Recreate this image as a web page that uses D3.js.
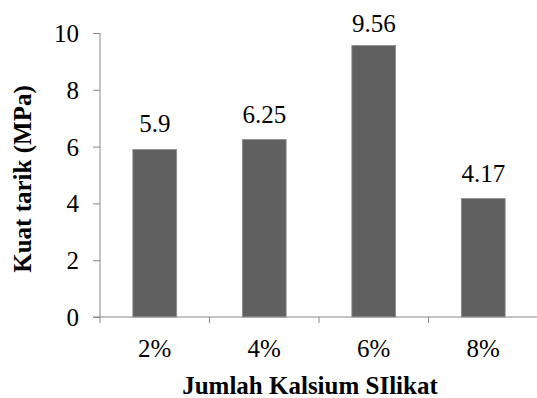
<!DOCTYPE html>
<html>
<head>
<meta charset="utf-8">
<script src="https://cdn.jsdelivr.net/npm/d3@7"></script>
<style>
  html, body { margin: 0; padding: 0; background: #fff; }
  svg text { font-family: "Liberation Serif", "Times New Roman", serif; fill: #000; }
</style>
</head>
<body>
<svg id="chart" width="537" height="398"></svg>
<script>
// Tensile strength by calcium silicate content
const categories = ["2%", "4%", "6%", "8%"];
const values = [5.9, 6.25, 9.56, 4.17];
const yTicks = [0, 2, 4, 6, 8, 10];
const xTitle = "Jumlah Kalsium SIlikat";
const yTitle = "Kuat tarik (MPa)";

const svg = d3.select("#chart");
const axisColor = "#898989";
const serif = "Liberation Serif, Times New Roman, serif";

const plotLeft = 100, plotRight = 538, plotTop = 33, plotBottom = 317;

const x = d3.scaleBand()
  .domain(categories)
  .range([plotLeft, plotRight])
  .paddingInner(0.6)
  .paddingOuter(0.3);

const y = d3.scaleLinear().domain([0, 10]).range([plotBottom, plotTop]);

// Bars
svg.append("g").selectAll("rect")
  .data(values)
  .join("rect")
  .attr("x", (d, i) => x(categories[i]))
  .attr("y", d => y(d))
  .attr("width", x.bandwidth())
  .attr("height", d => y(0) - y(d))
  .attr("fill", "#606060")
  .attr("stroke", "#8c8c8c")
  .attr("stroke-width", 0.8);

// Y axis
const yAxis = svg.append("g")
  .attr("transform", `translate(${plotLeft},0)`)
  .call(d3.axisLeft(y).tickValues(yTicks).tickSize(7).tickPadding(14).tickFormat(d3.format("d")));
yAxis.attr("font-family", serif);
yAxis.select(".domain").remove();
yAxis.selectAll(".tick line").attr("stroke", axisColor);
yAxis.selectAll(".tick text")
  .attr("font-size", 25)
  .attr("fill", "#000")
  .attr("font-family", serif)
  .attr("dy", "0.34em");
yAxis.append("line")
  .attr("x1", 0).attr("x2", 0)
  .attr("y1", plotTop).attr("y2", plotBottom + 6)
  .attr("stroke", axisColor);

// X axis: baseline, boundary ticks and category labels
const step = x.step();
const boundaries = categories.map(c => x(c) - (step - x.bandwidth()) / 2);
const xg = svg.append("g");
xg.append("line")
  .attr("x1", plotLeft - 7).attr("x2", plotRight)
  .attr("y1", plotBottom).attr("y2", plotBottom)
  .attr("stroke", axisColor);
xg.selectAll(".bt")
  .data(boundaries.slice(1))
  .join("line")
  .attr("x1", d => d).attr("x2", d => d)
  .attr("y1", plotBottom).attr("y2", plotBottom + 6)
  .attr("stroke", axisColor);
xg.selectAll(".cl")
  .data(categories)
  .join("text")
  .attr("x", d => x(d) + x.bandwidth() / 2)
  .attr("y", 357)
  .attr("text-anchor", "middle")
  .attr("font-family", serif)
  .attr("font-size", 25)
  .text(d => d);

// Value labels above bars
svg.append("g").selectAll("text")
  .data(values)
  .join("text")
  .attr("x", (d, i) => x(categories[i]) + x.bandwidth() / 2)
  .attr("y", d => Math.max(y(d) - 17, 32))
  .attr("text-anchor", "middle")
  .attr("font-family", serif)
  .attr("font-size", 25)
  .text(d => d);

// Axis titles
svg.append("text")
  .attr("x", 310)
  .attr("y", 394)
  .attr("text-anchor", "middle")
  .attr("font-family", serif)
  .attr("font-size", 25)
  .attr("font-weight", "bold")
  .text(xTitle);

svg.append("text")
  .attr("transform", "translate(31,179) rotate(-90)")
  .attr("text-anchor", "middle")
  .attr("font-family", serif)
  .attr("font-size", 25)
  .attr("font-weight", "bold")
  .text(yTitle);
</script>
</body>
</html>
